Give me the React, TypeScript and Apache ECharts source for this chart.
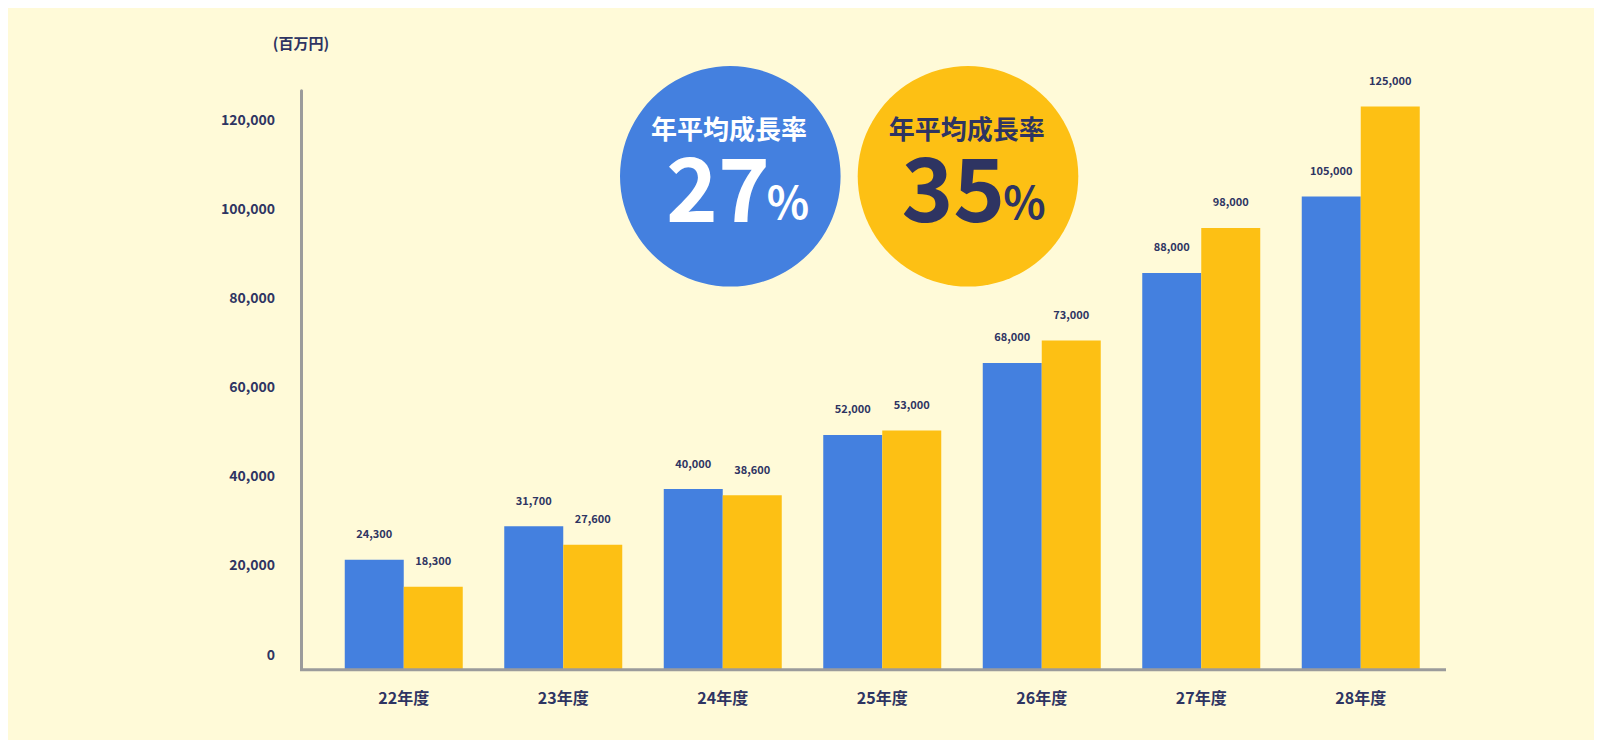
import React, { useEffect, useRef } from "react";
import * as echarts from "echarts";

const categories = ["22年度", "23年度", "24年度", "25年度", "26年度", "27年度", "28年度"];
const blueValues = [24300, 31700, 40000, 52000, 68000, 88000, 105000];
const yellowValues = [18300, 27600, 38600, 53000, 73000, 98000, 125000];
const unitLabel = "(百万円)";
const badgeTitle = "年平均成長率";
const blueRate = "27";
const yellowRate = "35";

const FONT = '"Noto Sans CJK JP", "Noto Sans", sans-serif';
const NAVY = "#2e3462";
const BLUE = "#4480df";
const YELLOW = "#fdc014";
const GRAY = "#9b9b9b";
const BG = "#fffad8";

const fmt = (v: number) => Number(v).toLocaleString("en-US");

export default function App() {
  const ref = useRef<HTMLDivElement>(null);
  useEffect(() => {
    if (!ref.current) return;
    const chart = echarts.init(ref.current, undefined, { renderer: "svg" });
    const labelStyle = {
      show: true,
      position: "top",
      distance: 21,
      fontSize: 11,
      fontWeight: "bold",
      color: NAVY,
      fontFamily: FONT,
      formatter: (p: any) => fmt(p.value),
    };
    chart.setOption({
      animation: false,
      backgroundColor: BG,
      textStyle: { fontFamily: FONT },
      grid: [
        { left: 316, right: 161.5, top: 82.7, bottom: 71 },
        { left: 316, right: 161.5, top: 111, bottom: 86.5 },
      ],
      xAxis: [
        {
          type: "category",
          gridIndex: 0,
          data: categories,
          axisLine: { show: false },
          axisTick: { show: false },
          axisLabel: { margin: 20, fontSize: 16, fontWeight: "bold", color: NAVY, fontFamily: FONT },
        },
        { type: "category", gridIndex: 1, data: categories, show: false },
      ],
      yAxis: [
        {
          type: "value",
          gridIndex: 0,
          min: 0,
          max: 128500,
          offset: 23,
          axisLine: { show: true, lineStyle: { color: GRAY, width: 3 } },
          axisTick: { show: false },
          axisLabel: { show: false },
          splitLine: { show: false },
          name: unitLabel,
          nameLocation: "end",
          nameGap: 41,
          nameTextStyle: { fontSize: 15, fontWeight: "bold", color: NAVY, fontFamily: FONT, align: "center" },
        },
        {
          type: "value",
          gridIndex: 1,
          min: 0,
          max: 120000,
          interval: 20000,
          offset: 23,
          axisLine: { show: false },
          axisTick: { show: false },
          splitLine: { show: false },
          axisLabel: {
            margin: 26,
            fontSize: 14,
            fontWeight: "bold",
            color: NAVY,
            fontFamily: FONT,
            formatter: (v: number) => fmt(v),
          },
        },
      ],
      series: [
        {
          type: "bar",
          name: "blue",
          xAxisIndex: 0,
          yAxisIndex: 0,
          data: blueValues,
          barWidth: 59,
          barGap: "0%",
          itemStyle: { color: BLUE },
          label: labelStyle,
        },
        {
          type: "bar",
          name: "yellow",
          xAxisIndex: 0,
          yAxisIndex: 0,
          data: yellowValues,
          barWidth: 59,
          barGap: "0%",
          itemStyle: { color: YELLOW },
          label: labelStyle,
        },
      ],
      graphic: [
        {
          type: "rect",
          z: 10,
          shape: { x: 292, y: 660.3, width: 1146, height: 3 },
          style: { fill: GRAY },
        },
        { type: "circle", z: 5, shape: { cx: 722.3, cy: 168.3, r: 110.3 }, style: { fill: BLUE } },
        { type: "circle", z: 5, shape: { cx: 960, cy: 168.3, r: 110.3 }, style: { fill: YELLOW } },
        {
          type: "text",
          z: 6,
          x: 721,
          y: 119.5,
          style: { text: badgeTitle, fill: "#ffffff", font: `bold 26px ${FONT}`, lineHeight: 28, textAlign: "center", textVerticalAlign: "middle" },
        },
        {
          type: "text",
          z: 6,
          x: 709.9,
          y: 175.5,
          style: { text: blueRate, fill: "#ffffff", font: `bold 88px ${FONT}`, lineHeight: 66, textAlign: "center", textVerticalAlign: "middle" },
        },
        {
          type: "text",
          z: 6,
          x: 780,
          y: 191.5,
          style: { text: "%", fill: "#ffffff", font: `bold 44px ${FONT}`, lineHeight: 34, textAlign: "center", textVerticalAlign: "middle" },
        },
        {
          type: "text",
          z: 6,
          x: 958.7,
          y: 119.5,
          style: { text: badgeTitle, fill: NAVY, font: `bold 26px ${FONT}`, lineHeight: 28, textAlign: "center", textVerticalAlign: "middle" },
        },
        {
          type: "text",
          z: 6,
          x: 945.3,
          y: 175.5,
          style: { text: yellowRate, fill: NAVY, font: `bold 88px ${FONT}`, lineHeight: 66, textAlign: "center", textVerticalAlign: "middle" },
        },
        {
          type: "text",
          z: 6,
          x: 1016.5,
          y: 191.5,
          style: { text: "%", fill: NAVY, font: `bold 44px ${FONT}`, lineHeight: 34, textAlign: "center", textVerticalAlign: "middle" },
        },
      ],
    });
    return () => chart.dispose();
  }, []);
  return <div ref={ref} style={{ width: 1594, height: 732, background: BG }} />;
}
